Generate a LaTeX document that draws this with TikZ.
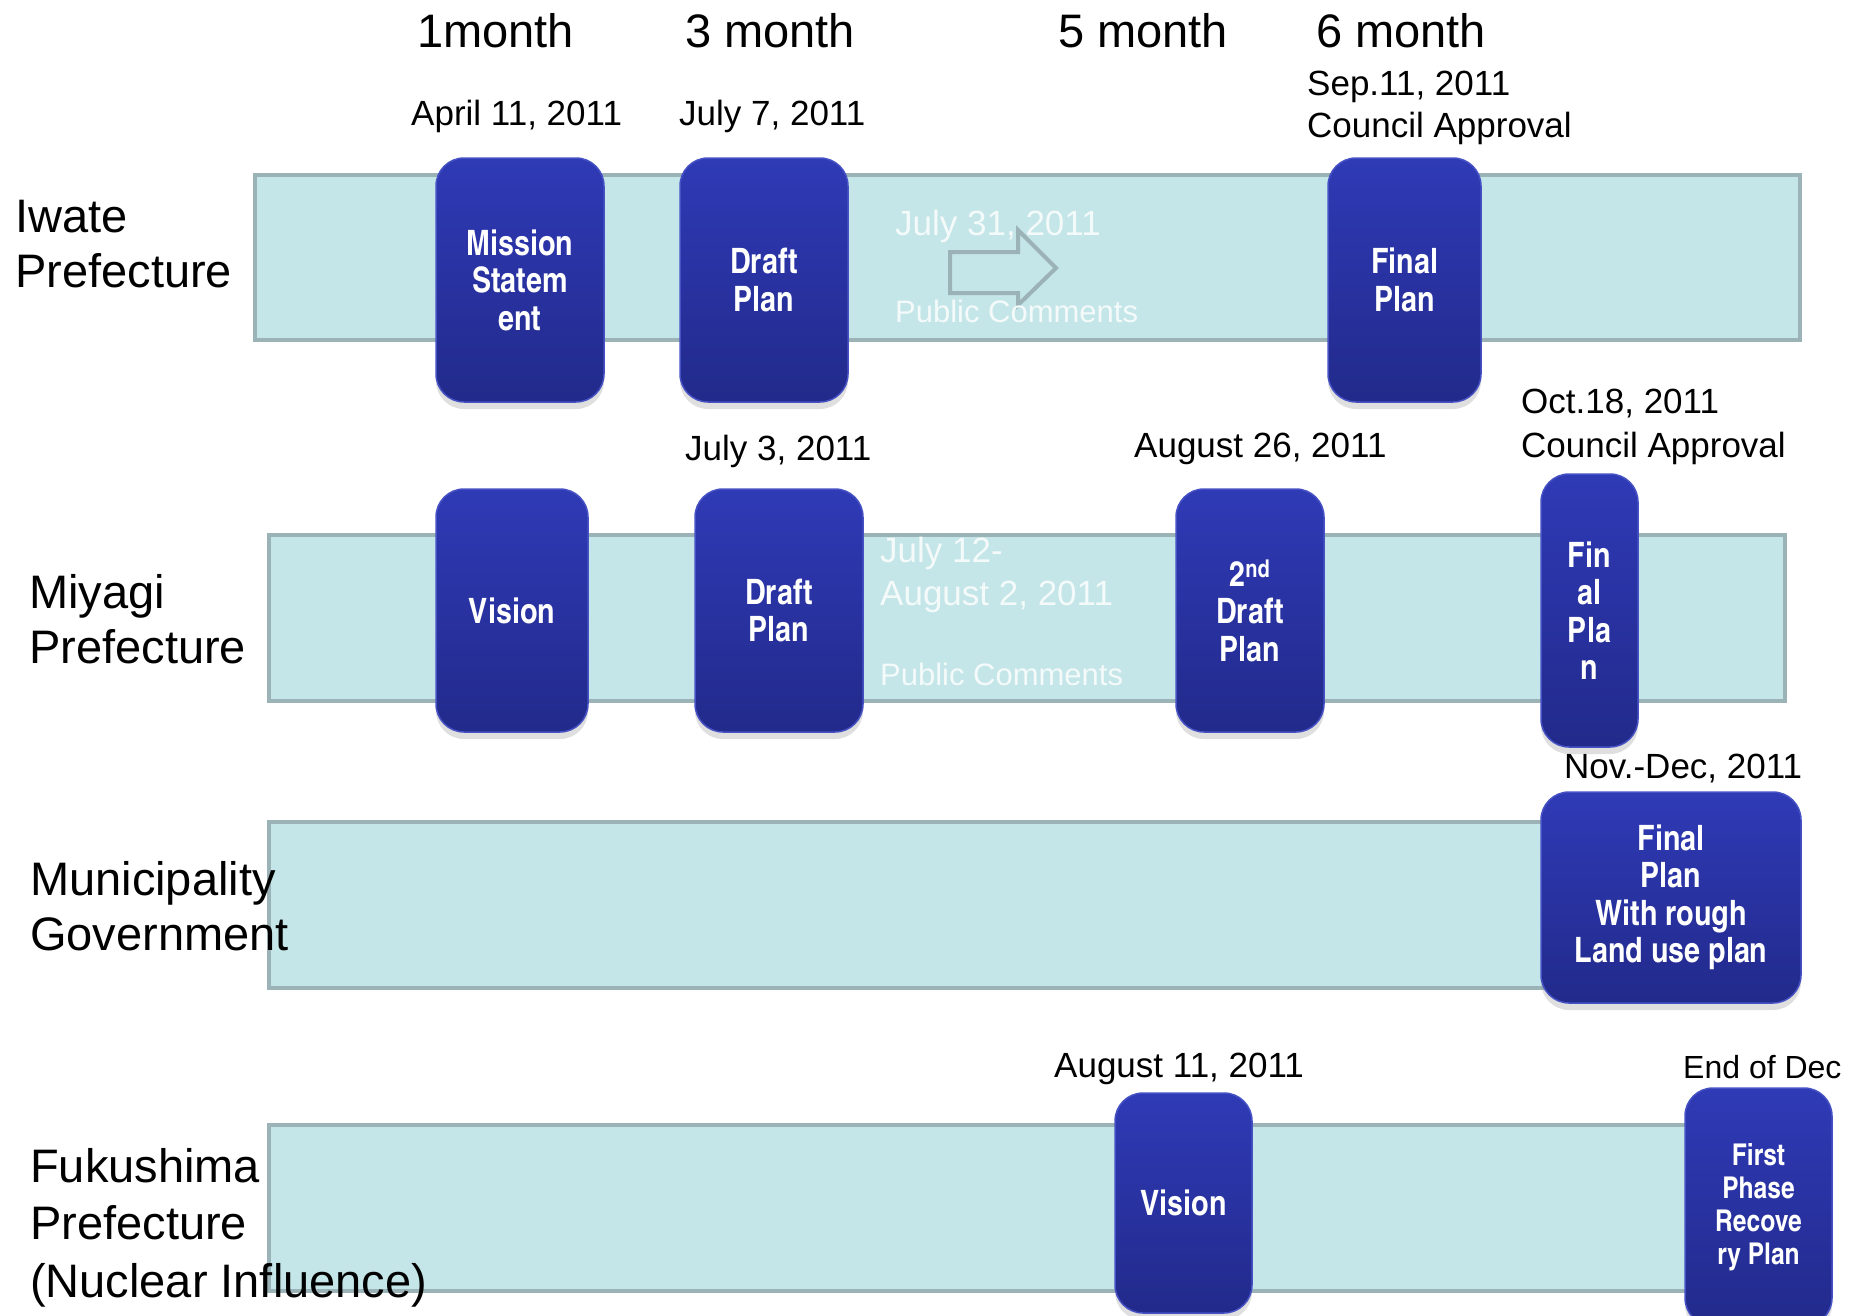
\documentclass[tikz,border=0pt]{standalone}
\usepackage{fontspec}
\setmainfont{Liberation Sans}
\newfontfamily\condfont{texgyreheroscn-bold.otf}
\usepackage{tikz}
\usetikzlibrary{shadows}
\definecolor{bandfill}{HTML}{C4E6E8}
\definecolor{bandline}{HTML}{9BB3B7}
\definecolor{stagetop}{HTML}{2F3AB6}
\definecolor{stagebot}{HTML}{222A8B}
\definecolor{stageline}{HTML}{4652C4}
\definecolor{notewhite}{HTML}{F4FAFA}
\tikzstyle{band} = [rectangle, draw=bandline, fill=bandfill, line width=4pt, inner sep=0pt]
\tikzstyle{stage} = [rectangle, rounded corners=28pt, draw=stageline, line width=1.5pt, top color=stagetop, bottom color=stagebot, text=white, align=center, inner sep=0pt, font=\condfont\fontsize{35}{37.5}\selectfont, drop shadow={shadow xshift=0pt, shadow yshift=-7pt, opacity=0.25}]
\tikzstyle{smallstage} = [stage, font=\condfont\fontsize{30}{33}\selectfont]
\tikzstyle{month} = [anchor=base west, inner sep=0pt, font=\fontsize{47}{55}\selectfont]
\tikzstyle{rowname} = [month, align=left]
\tikzstyle{date} = [anchor=base west, inner sep=0pt, align=left, font=\fontsize{35}{42}\selectfont]
\tikzstyle{note} = [date, text=notewhite]
\tikzstyle{notesmall} = [note, font=\fontsize{31}{37}\selectfont]

\begin{document}
\begin{tikzpicture}[x=1pt, y=-1pt]
\useasboundingbox (0,0) rectangle (1852,1315);

% Bande
\node (iwateband) [band, minimum width=1545, minimum height=165] at (1027.5,257.5) {};
\node (miyagiband) [band, minimum width=1516, minimum height=166] at (1027,618) {};
\node (muniband) [band, minimum width=1516, minimum height=166] at (1027,905) {};
\node (fukuband) [band, minimum width=1516, minimum height=166] at (1027,1208) {};

% Nomi delle righe (base = ultima riga)
\node (iwatename) [rowname] at (15,287) {Iwate\\Prefecture};
\node (miyaginame) [rowname] at (29,663) {Miyagi\\Prefecture};
\node (muniname) [rowname] at (30,950) {Municipality\\Government};
\node (fukuname) [rowname, font=\fontsize{47}{57.5}\selectfont] at (30,1297) {Fukushima\\Prefecture\\(Nuclear Influence)};

% Mesi
\node (m1) [month] at (417,47) {1month};
\node (m3) [month] at (685,47) {3 month};
\node (m5) [month] at (1058,47) {5 month};
\node (m6) [month] at (1316,47) {6 month};

% Date
\node (d1) [date] at (411,125) {April 11, 2011};
\node (d2) [date] at (679,125) {July 7, 2011};
\node (d3) [date] at (1307,137) {Sep.11, 2011\\Council Approval};
\node (d4) [date] at (685,460) {July 3, 2011};
\node (d5) [date] at (1134,457) {August 26, 2011};
\node (d6) [date, font=\fontsize{35}{44}\selectfont] at (1521,457) {Oct.18, 2011\\Council Approval};
\node (d7) [date] at (1564,778) {Nov.-Dec, 2011};
\node (d8) [date] at (1054,1077) {August 11, 2011};
\node (d9) [date, font=\fontsize{32}{38}\selectfont] at (1683,1078) {End of Dec};

% Commenti pubblici
\draw [bandline, line width=4pt] (950,252) -- (1018,252) -- (1018,230) -- (1056,268) -- (1018,305) -- (1018,293) -- (950,293) -- cycle;
\node (pc1date) [note] at (895,235) {July 31, 2011};
\node (pc1) [notesmall] at (895,322) {Public Comments};
\node (pc2date) [note, font=\fontsize{35}{43}\selectfont] at (880,605) {July 12-\\August 2, 2011};
\node (pc2) [notesmall] at (880,685) {Public Comments};

% Tappe
\node (iwmission) [stage, minimum width=168, minimum height=244] at (520,280) {Mission\\Statem\\ent};
\node (iwdraft) [stage, minimum width=168, minimum height=244] at (764,280) {Draft\\Plan};
\node (iwfinal) [stage, minimum width=153, minimum height=244] at (1404.5,280) {Final\\Plan};
\node (myvision) [stage, minimum width=152, minimum height=243] at (512,610.5) {Vision};
\node (mydraft) [stage, minimum width=168, minimum height=243] at (779,610.5) {Draft\\Plan};
\node (mydraft2) [stage, minimum width=148, minimum height=243] at (1250,610.5) {2\textsuperscript{nd}\\Draft\\Plan};
\node (myfinal) [stage, minimum width=97, minimum height=273] at (1589.5,610.5) {Fin\\al\\Pla\\n};
\node (mufinal) [stage, minimum width=260, minimum height=211] at (1671,897.5) {Final\\Plan\\With rough\\Land use plan};
\node (fkvision) [stage, minimum width=137, minimum height=220] at (1183.5,1203) {Vision};
\node (fkfirst) [smallstage, minimum width=147, minimum height=238] at (1758.5,1207) {First\\Phase\\Recove\\ry Plan};
\end{tikzpicture}
\end{document}
